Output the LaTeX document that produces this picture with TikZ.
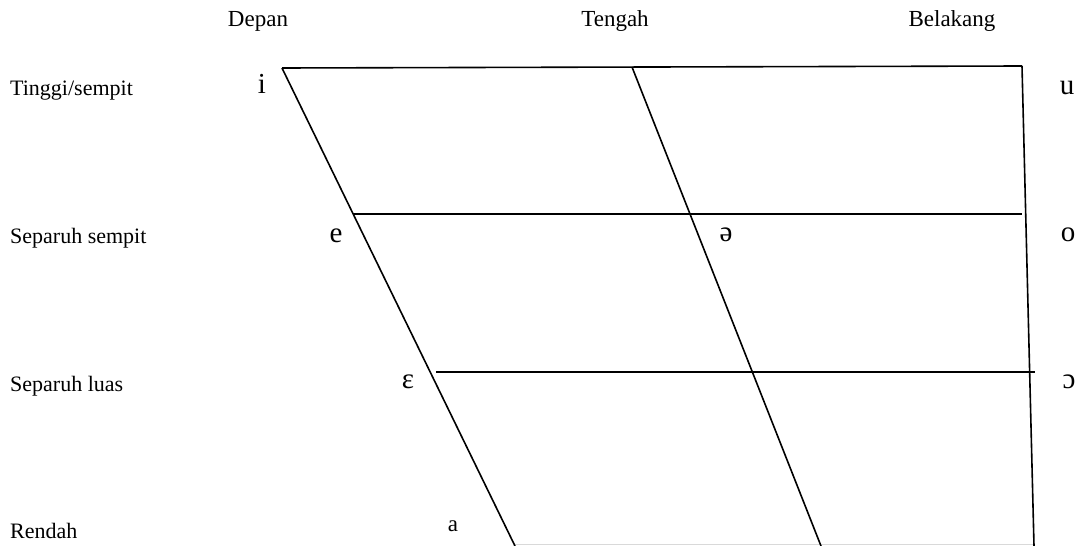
\documentclass[tikz,border=0pt]{standalone}
\usepackage{fontspec}
\setmainfont{Liberation Serif}
\begin{document}
\begin{tikzpicture}[x=1pt,y=-1pt,
  lbl/.style={anchor=base west,inner sep=0pt,font=\fontsize{22}{26}\selectfont},
  hdr/.style={anchor=base,inner sep=0pt,font=\fontsize{23}{27}\selectfont},
  vow/.style={anchor=base,inner sep=0pt,font=\fontsize{29}{32}\selectfont},
  edge/.style={line width=1.6pt,black},
  faint/.style={line width=1.4pt,black!15}]
\useasboundingbox (0,0) rectangle (1077,546);
% corners
\coordinate (TL) at (282,68);
\coordinate (TM) at (632,67);
\coordinate (TR) at (1022,66);
\coordinate (BL) at (515,546);
\coordinate (BM) at (821,546);
\coordinate (BR) at (1034,546);
\coordinate (EL) at (353,214);
\coordinate (ER) at (1022,214);
\coordinate (OL) at (436,372);
\coordinate (OR) at (1035,372);
\coordinate (GL) at (515,544.5);
\coordinate (GR) at (1034,544.5);
% lines
\draw[faint] (GL) -- (GR);
\draw[edge] (TL) -- (TR);
\draw[edge] (TL) -- (BL);
\draw[edge] (TM) -- (BM);
\draw[edge] (TR) -- (BR);
\draw[edge] (EL) -- (ER);
\draw[edge] (OL) -- (OR);
% headers
\node[hdr] (depan) at (258,27) {Depan};
\node[hdr] (tengah) at (615,27) {Tengah};
\node[hdr] (belakang) at (952,27) {Belakang};
% row labels
\node[lbl] (tinggi) at (10,95) {Tinggi/sempit};
\node[lbl] (sepsempit) at (10,243) {Separuh sempit};
\node[lbl] (sepluas) at (10,391) {Separuh luas};
\node[lbl] (rendah) at (10,538) {Rendah};
% vowels
\node[vow] (vi) at (262,93) {i};
\node[vow] (vu) at (1067,94) {u};
\node[vow] (ve) at (336,242) {e};
\node[vow] (vschwa) at (726,241) {ə};
\node[vow] (vo) at (1068,241) {o};
\node[vow] (veps) at (408,388) {ɛ};
\node[vow] (vopen) at (1069,388) {ɔ};
\node[hdr] (va) at (453,531) {a};
\end{tikzpicture}
\end{document}
